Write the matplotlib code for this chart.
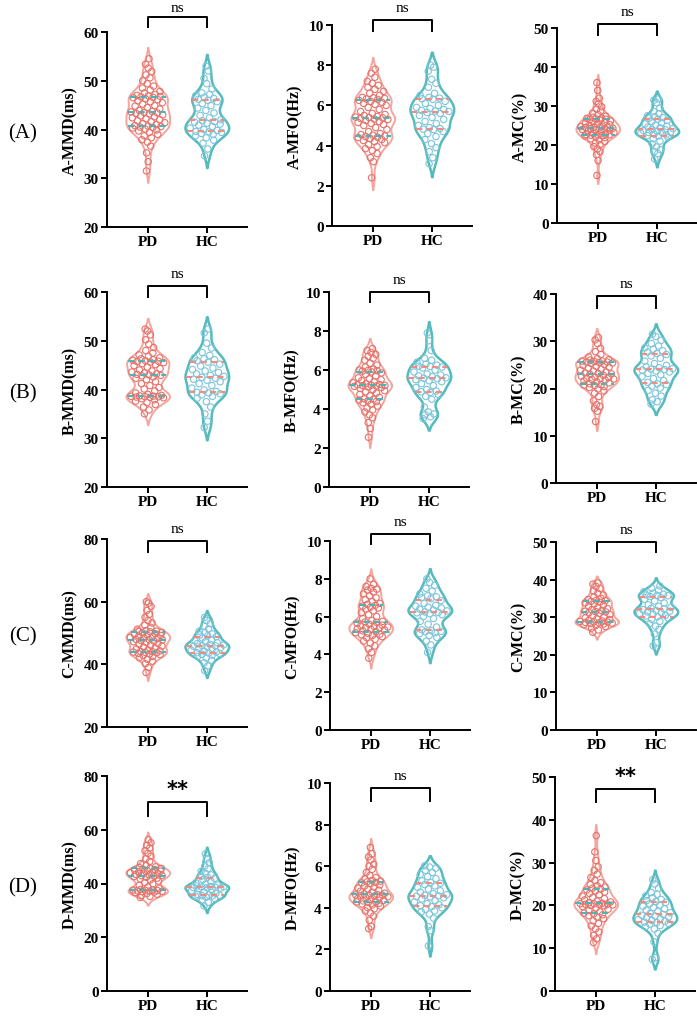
import numpy as np
import matplotlib
matplotlib.use("Agg")
import matplotlib.pyplot as plt

# ---------------- data ----------------
groups = ["PD", "HC"]

A_MMD_PD = [31.5, 33.4, 35.2, 36.6, 37.4, 37.9, 38.3, 38.7, 39.0, 39.4,
            39.7, 39.9, 40.1, 40.3, 40.4, 40.5, 40.6, 40.7, 40.8, 41.0,
            41.2, 41.4, 41.6, 41.8, 42.0, 42.2, 42.4, 42.6, 42.8, 43.0,
            43.2, 43.3, 43.4, 43.5, 43.6, 43.7, 43.9, 44.2, 44.5, 44.8,
            44.9, 45.2, 45.5, 45.7, 45.9, 46.1, 46.3, 46.5, 46.6, 46.7,
            46.8, 46.9, 47.0, 47.2, 47.5, 47.8, 48.1, 48.5, 48.9, 49.4,
            50.0, 50.6, 51.2, 51.9, 52.6, 53.4, 54.5]
A_MMD_HC = [34.6, 36.0, 37.2, 37.8, 38.3, 38.7, 39.0, 39.2, 39.4, 39.5,
            39.6, 39.8, 40.0, 40.3, 40.6, 40.9, 41.1, 41.3, 41.5, 41.6,
            41.8, 42.0, 42.4, 42.9, 43.4, 43.9, 44.4, 44.9, 45.3, 45.7,
            46.0, 46.2, 46.4, 46.6, 46.9, 47.2, 47.5, 48.3, 49.4, 50.5,
            52.0, 53.0]

A_MFO_PD = [2.4, 3.2, 3.4, 3.6, 3.75, 3.85, 3.95, 4.05, 4.15, 4.2,
            4.25, 4.3, 4.35, 4.4, 4.42, 4.45, 4.48, 4.52, 4.55, 4.6,
            4.7, 4.8, 4.9, 5.0, 5.05, 5.1, 5.15, 5.2, 5.25, 5.3,
            5.32, 5.35, 5.38, 5.4, 5.42, 5.45, 5.5, 5.55, 5.6, 5.7,
            5.8, 5.9, 6.0, 6.05, 6.1, 6.15, 6.2, 6.25, 6.3, 6.32,
            6.35, 6.38, 6.4, 6.5, 6.6, 6.7, 6.8, 6.9, 7.0, 7.1,
            7.2, 7.4, 7.6, 7.8]
A_MFO_HC = [3.1, 3.4, 3.7, 3.9, 4.1, 4.3, 4.45, 4.6, 4.7, 4.8,
            4.82, 4.85, 4.9, 5.0, 5.1, 5.2, 5.3, 5.4, 5.5, 5.6,
            5.65, 5.7, 5.72, 5.75, 5.8, 5.85, 5.9, 6.0, 6.1, 6.2,
            6.3, 6.33, 6.36, 6.4, 6.5, 6.6, 6.9, 7.1, 7.3, 7.7,
            7.9, 8.0]

A_MC_PD = [12.2, 16.0, 17.5, 18.3, 19.0, 19.6, 20.1, 20.5, 20.9, 21.3,
           21.6, 21.9, 22.1, 22.3, 22.4, 22.5, 22.6, 22.6, 22.7, 22.8,
           23.0, 23.2, 23.4, 23.6, 23.8, 23.9, 24.0, 24.1, 24.2, 24.3,
           24.4, 24.5, 24.5, 24.6, 24.7, 24.8, 25.0, 25.2, 25.4, 25.6,
           25.8, 26.0, 26.2, 26.4, 26.5, 26.6, 26.7, 26.8, 26.9, 27.1,
           27.4, 27.8, 28.2, 28.7, 29.2, 29.8, 30.5, 31.2, 32.0, 34.0,
           36.0]
A_MC_HC = [16.4, 17.8, 18.3, 18.8, 19.5, 20.3, 21.0, 21.6, 22.0, 22.3,
           22.4, 22.6, 22.8, 23.0, 23.1, 23.2, 23.3, 23.5, 23.7, 23.9,
           24.0, 24.2, 24.4, 24.6, 24.8, 25.1, 25.4, 25.7, 26.0, 26.3,
           26.6, 26.9, 27.0, 27.2, 27.5, 28.0, 28.6, 29.5, 30.8, 31.5,
           31.8]

B_MMD_PD = [35.0, 35.8, 36.4, 36.9, 37.3, 37.6, 37.9, 38.1, 38.3, 38.4,
            38.45, 38.5, 38.55, 38.6, 38.65, 38.7, 38.8, 39.0, 39.3, 39.7,
            40.1, 40.4, 40.8, 41.2, 41.6, 42.0, 42.3, 42.6, 42.8, 42.9,
            43.0, 43.1, 43.2, 43.4, 43.6, 43.8, 44.0, 44.3, 44.6, 44.9,
            45.1, 45.3, 45.5, 45.6, 45.7, 45.8, 45.9, 46.0, 46.1, 46.3,
            46.5, 46.8, 47.1, 47.5, 48.0, 48.6, 49.3, 50.2, 51.2, 52.0,
            52.4]
B_MMD_HC = [32.2, 33.5, 35.0, 36.4, 37.5, 38.2, 38.6, 38.9, 39.1, 39.3,
            39.4, 39.6, 39.9, 40.3, 40.8, 41.2, 41.6, 41.9, 42.1, 42.3,
            42.5, 42.7, 42.9, 43.2, 43.5, 43.8, 44.1, 44.4, 44.8, 45.2,
            45.6, 45.9, 46.1, 46.3, 46.5, 47.0, 47.6, 48.5, 49.5, 51.6,
            52.4]

B_MFO_PD = [2.55, 3.0, 3.3, 3.55, 3.7, 3.85, 3.95, 4.05, 4.15, 4.25,
            4.32, 4.38, 4.42, 4.46, 4.5, 4.52, 4.6, 4.68, 4.75, 4.82,
            4.88, 4.94, 5.0, 5.05, 5.1, 5.13, 5.16, 5.18, 5.2, 5.21,
            5.22, 5.24, 5.26, 5.3, 5.35, 5.4, 5.45, 5.5, 5.55, 5.6,
            5.7, 5.78, 5.85, 5.9, 5.94, 5.96, 5.98, 6.0, 6.05, 6.15,
            6.25, 6.35, 6.5, 6.6, 6.7, 6.8, 6.9, 7.0, 7.1]
B_MFO_HC = [3.5, 3.6, 3.7, 3.75, 3.85, 4.1, 4.5, 4.65, 4.75, 4.85,
            4.88, 4.92, 5.0, 5.1, 5.2, 5.3, 5.4, 5.45, 5.5, 5.55,
            5.58, 5.6, 5.65, 5.7, 5.75, 5.8, 5.9, 6.0, 6.1, 6.15,
            6.18, 6.2, 6.25, 6.3, 6.4, 6.5, 6.6, 7.0, 7.5, 7.9]

B_MC_PD = [13.0, 15.2, 15.8, 16.2, 16.6, 17.4, 18.3, 19.0, 19.5, 19.9,
           20.2, 20.4, 20.6, 20.7, 20.8, 21.0, 21.2, 21.4, 21.6, 21.8,
           21.9, 22.0, 22.1, 22.2, 22.3, 22.4, 22.6, 22.8, 23.0, 23.1,
           23.2, 23.3, 23.5, 23.7, 23.9, 24.1, 24.3, 24.5, 24.7, 24.9,
           25.1, 25.3, 25.4, 25.5, 25.6, 25.6, 25.7, 25.8, 25.8, 26.0,
           26.1, 26.3, 26.7, 27.2, 27.8, 28.5, 29.5, 30.3, 30.8]
B_MC_HC = [16.7, 17.2, 17.6, 18.4, 19.0, 19.6, 20.1, 20.5, 20.8, 21.0,
           21.3, 21.7, 22.1, 22.5, 22.9, 23.2, 23.5, 23.7, 23.9, 24.0,
           24.1, 24.2, 24.4, 24.6, 24.9, 25.3, 25.8, 26.4, 26.9, 27.2,
           27.4, 27.7, 28.0, 28.3, 28.6, 29.0, 29.5, 30.2, 31.0, 31.5]

C_MMD_PD = [37.4, 39.0, 40.2, 41.0, 41.6, 42.1, 42.5, 42.8, 43.1, 43.3,
            43.5, 43.7, 43.8, 43.9, 44.0, 44.1, 44.3, 44.6, 44.9, 45.2,
            45.5, 45.8, 46.1, 46.4, 46.7, 47.0, 47.2, 47.4, 47.6, 47.8,
            47.9, 48.0, 48.2, 48.4, 48.6, 48.8, 49.0, 49.2, 49.4, 49.6,
            49.8, 50.0, 50.2, 50.4, 50.5, 50.6, 50.8, 51.2, 51.8, 52.5,
            53.2, 54.0, 55.0, 56.0, 57.2, 58.5, 59.5, 60.0]
C_MMD_HC = [38.0, 39.5, 40.5, 41.3, 42.0, 42.5, 42.9, 43.2, 43.4, 43.6,
            43.7, 43.9, 44.2, 44.5, 44.8, 45.1, 45.4, 45.6, 45.8, 45.9,
            46.0, 46.2, 46.4, 46.6, 46.9, 47.2, 47.5, 47.8, 48.4, 48.8,
            49.1, 49.4, 49.7, 50.1, 50.6, 51.3, 52.2, 53.0, 54.0, 55.0]

C_MFO_PD = [3.8, 4.1, 4.3, 4.45, 4.6, 4.7, 4.8, 4.88, 4.94, 5.0,
            5.04, 5.07, 5.1, 5.15, 5.2, 5.25, 5.3, 5.33, 5.36, 5.4,
            5.42, 5.45, 5.48, 5.5, 5.55, 5.6, 5.65, 5.7, 5.72, 5.75,
            5.8, 5.9, 6.0, 6.1, 6.2, 6.3, 6.4, 6.45, 6.5, 6.55,
            6.6, 6.65, 6.7, 6.8, 6.9, 7.0, 7.1, 7.2, 7.3, 7.4,
            7.45, 7.5, 7.6, 7.7, 8.0]
C_MFO_HC = [4.1, 4.5, 4.7, 4.9, 5.0, 5.1, 5.15, 5.2, 5.22, 5.25,
            5.3, 5.45, 5.6, 5.75, 5.9, 6.0, 6.1, 6.15, 6.2, 6.22,
            6.25, 6.3, 6.35, 6.4, 6.45, 6.5, 6.55, 6.6, 6.7, 6.85,
            6.95, 7.0, 7.05, 7.1, 7.2, 7.35, 7.5, 7.65, 7.8, 8.0]

C_MC_PD = [26.0, 26.6, 27.1, 27.5, 27.8, 28.0, 28.2, 28.3, 28.4, 28.5,
           28.6, 28.7, 28.8, 28.9, 29.0, 29.2, 29.4, 29.6, 29.8, 30.1,
           30.4, 30.7, 31.0, 31.2, 31.4, 31.5, 31.6, 31.8, 32.0, 32.3,
           32.6, 32.9, 33.2, 33.5, 33.8, 34.0, 34.2, 34.4, 34.5, 34.7,
           35.0, 35.4, 35.9, 36.4, 37.0, 37.6, 38.2, 38.8, 39.1]
C_MC_HC = [22.4, 23.2, 25.5, 26.8, 27.6, 28.3, 28.9, 29.4, 29.8, 30.1,
           30.3, 30.5, 30.8, 31.0, 31.2, 31.4, 31.6, 31.8, 32.0, 32.2,
           32.4, 32.6, 32.9, 33.3, 33.8, 34.3, 34.8, 35.2, 35.5, 35.7,
           35.8, 35.9, 36.1, 36.4, 36.8, 37.2, 37.7, 38.3]

D_MMD_PD = [34.8, 35.2, 35.6, 36.0, 36.3, 36.6, 36.8, 37.0, 37.1, 37.2,
            37.3, 37.4, 37.5, 37.55, 37.6, 37.8, 38.2, 38.7, 39.3, 39.9,
            40.4, 40.9, 41.3, 41.7, 42.0, 42.3, 42.6, 42.8, 42.9, 43.0,
            43.2, 43.4, 43.6, 43.8, 44.0, 44.2, 44.4, 44.6, 44.8, 45.0,
            45.2, 45.4, 45.6, 45.7, 45.9, 46.2, 46.7, 47.4, 48.2, 49.2,
            50.2, 51.2, 52.2, 53.2, 54.2, 55.2, 56.3]
D_MMD_HC = [31.7, 33.0, 33.8, 34.4, 34.9, 35.2, 35.4, 35.5, 35.6, 35.7,
            35.9, 36.3, 36.8, 37.3, 37.8, 38.1, 38.3, 38.4, 38.5, 38.6,
            38.7, 38.8, 38.9, 39.1, 39.4, 39.8, 40.3, 40.8, 41.4, 41.9,
            42.3, 42.7, 43.2, 43.8, 44.5, 45.5, 46.5, 47.8, 49.2, 51.0]

D_MFO_PD = [3.0, 3.1, 3.4, 3.6, 3.75, 3.85, 3.95, 4.02, 4.08, 4.14,
            4.18, 4.22, 4.25, 4.28, 4.3, 4.33, 4.36, 4.4, 4.44, 4.48,
            4.5, 4.53, 4.56, 4.58, 4.6, 4.6, 4.62, 4.64, 4.66, 4.7,
            4.75, 4.8, 4.85, 4.9, 4.95, 5.0, 5.05, 5.1, 5.15, 5.2,
            5.22, 5.25, 5.28, 5.32, 5.38, 5.45, 5.55, 5.7, 5.85, 6.0,
            6.1, 6.3, 6.45, 6.6, 6.9]
D_MFO_HC = [2.17, 2.9, 3.1, 3.5, 3.7, 3.8, 3.85, 3.92, 4.0, 4.06,
            4.1, 4.15, 4.2, 4.28, 4.35, 4.42, 4.48, 4.52, 4.55, 4.57,
            4.6, 4.63, 4.68, 4.75, 4.82, 4.9, 4.98, 5.05, 5.12, 5.18,
            5.22, 5.3, 5.4, 5.5, 5.6, 5.7, 5.8, 5.9, 5.96, 6.02]

D_MC_PD = [11.3, 12.2, 13.0, 13.8, 14.5, 15.2, 15.8, 16.4, 16.9, 17.3,
           17.6, 17.8, 18.0, 18.2, 18.5, 18.8, 19.1, 19.4, 19.7, 19.9,
           20.0, 20.1, 20.2, 20.25, 20.3, 20.35, 20.4, 20.5, 20.6, 20.8,
           21.0, 21.3, 21.6, 21.9, 22.2, 22.5, 22.8, 23.1, 23.4, 23.6,
           23.8, 24.0, 24.3, 24.6, 24.9, 25.3, 25.8, 26.5, 27.3, 28.2,
           29.0, 30.5, 32.5, 36.3]
D_MC_HC = [7.4, 7.8, 11.5, 13.5, 14.5, 15.0, 15.3, 15.6, 15.8, 16.0,
           16.1, 16.3, 16.5, 16.7, 16.9, 17.1, 17.3, 17.5, 17.7, 17.9,
           18.1, 18.3, 18.6, 18.9, 19.2, 19.5, 19.8, 20.1, 20.4, 20.7,
           20.9, 21.1, 21.4, 21.8, 22.2, 22.6, 23.0, 24.0, 25.0, 26.0]

row_labels = ["(A)", "(B)", "(C)", "(D)"]
y_labels = ["A-MMD(ms)", "A-MFO(Hz)", "A-MC(%)",
            "B-MMD(ms)", "B-MFO(Hz)", "B-MC(%)",
            "C-MMD(ms)", "C-MFO(Hz)", "C-MC(%)",
            "D-MMD(ms)", "D-MFO(Hz)", "D-MC(%)"]
pd_data = [A_MMD_PD, A_MFO_PD, A_MC_PD, B_MMD_PD, B_MFO_PD, B_MC_PD,
           C_MMD_PD, C_MFO_PD, C_MC_PD, D_MMD_PD, D_MFO_PD, D_MC_PD]
hc_data = [A_MMD_HC, A_MFO_HC, A_MC_HC, B_MMD_HC, B_MFO_HC, B_MC_HC,
           C_MMD_HC, C_MFO_HC, C_MC_HC, D_MMD_HC, D_MFO_HC, D_MC_HC]
y_ranges = [(20, 60, 10), (0, 10, 2), (0, 50, 10),
            (20, 60, 10), (0, 10, 2), (0, 40, 10),
            (20, 80, 20), (0, 10, 2), (0, 50, 10),
            (0, 80, 20), (0, 10, 2), (0, 50, 10)]
significance = ["ns", "ns", "ns", "ns", "ns", "ns",
                "ns", "ns", "ns", "**", "ns", "**"]

# ---------------- layout / style ----------------
W, H = 697, 1020
# (left px, top px, bottom px) of each axes
boxes = [(107, 33, 228), (332, 26, 227), (557, 29, 224),
         (107, 293, 488), (329, 293, 488), (556, 295, 484),
         (107, 540, 728), (330, 542, 731), (556, 543, 731),
         (107, 777, 992), (330, 784, 992), (555, 778, 992)]
AX_W = 140
# bracket (bar y, leg-end y) in data units
brackets = [(63.1, 61.0), (10.25, 9.7), (51.0, 48.2),
            (61.2, 59.0), (10.0, 9.5), (39.6, 37.0),
            (79.5, 75.7), (10.37, 9.84), (50.0, 47.3),
            (70.3, 65.1), (9.76, 9.13), (47.2, 44.2)]

PD_LINE = "#F4A59E"
PD_PT = "#E8716A"
HC_LINE = "#55BBBD"
HC_PT = "#7CC5DA"
PD_DASH = "#4DB3B5"
HC_DASH = "#EF8C84"

SERIF = "Liberation Serif"


def kde(vals, grid, bw):
    v = np.asarray(vals)[:, None]
    z = (grid[None, :] - v) / bw
    return np.exp(-0.5 * z ** 2).sum(axis=0) / (len(vals) * bw * np.sqrt(2 * np.pi))


def draw_violin(ax, vals, pos, line_c, pt_c, dash_c, lw):
    vals = np.sort(np.asarray(vals, dtype=float))
    n = len(vals)
    bw = 0.62 * vals.std(ddof=1) * n ** (-0.2)
    grid = np.linspace(vals.min() - 1.9 * bw, vals.max() + 1.9 * bw, 400)
    dens = kde(vals, grid, bw)
    hw = dens / dens.max() * 0.37
    ax.fill_betweenx(grid, pos - hw, pos + hw, facecolor="white",
                     edgecolor=line_c, linewidth=lw, zorder=2)
    # points spread inside the violin (golden-ratio sequence)
    phi = 0.6180339887
    u = np.array([((i * phi) % 1.0) * 2 - 1 for i in range(n)])
    w = np.interp(vals, grid, hw)
    xs = pos + u * w * 0.82
    ax.scatter(xs, vals, s=21, facecolors="none", edgecolors=pt_c,
               linewidths=0.8, zorder=3)
    for q in np.percentile(vals, [25, 50, 75]):
        wq = np.interp(q, grid, hw) * 0.95
        ax.plot([pos - wq, pos + wq], [q, q], color=dash_c, lw=1.5,
                ls=(0, (3, 2)), zorder=4, solid_capstyle="butt")


fig = plt.figure(figsize=(W / 100, H / 100), dpi=100)

for k in range(12):
    L, T, B = boxes[k]
    ax = fig.add_axes([L / W, 1 - B / H, AX_W / W, (B - T) / H])
    y0, y1, st = y_ranges[k]
    ax.set_ylim(y0, y1)
    ax.set_xlim(-0.69, 1.68)
    draw_violin(ax, pd_data[k], 0, PD_LINE, PD_PT, PD_DASH, 1.4)
    draw_violin(ax, hc_data[k], 1, HC_LINE, HC_PT, HC_DASH, 1.8)

    for s in ["top", "right"]:
        ax.spines[s].set_visible(False)
    for s in ["left", "bottom"]:
        ax.spines[s].set_linewidth(1.4)
    ax.set_yticks(np.arange(y0, y1 + st / 2, st))
    ax.set_xticks([0, 1])
    ax.set_xticklabels(groups)
    ax.tick_params(direction="out", length=4, width=1.4, pad=2)
    for lab in ax.get_yticklabels():
        lab.set_fontfamily(SERIF)
        lab.set_fontweight("bold")
        lab.set_fontsize(11)
    for lab in ax.get_xticklabels():
        lab.set_fontfamily(SERIF)
        lab.set_fontweight("bold")
        lab.set_fontsize(11)
    ax.set_ylabel(y_labels[k], fontfamily=SERIF, fontweight="bold",
                  fontsize=11.5, labelpad=4)

    bar, leg = brackets[k]
    ax.plot([0, 0, 1, 1], [leg, bar, bar, leg], color="black", lw=1.4,
            clip_on=False, zorder=5)
    bx, by = ax.transData.transform((0.5, bar))
    bar_from_top = H - by
    if significance[k] == "ns":
        base_from_top = max(bar_from_top - 9.0, 11.5)
        fig.text(bx / W, 1 - base_from_top / H, "ns", ha="center",
                 va="baseline", fontfamily=SERIF, fontsize=11)
    else:
        ax.annotate(significance[k], xy=(0.5, bar), xytext=(0, 2),
                    textcoords="offset points", ha="center", va="bottom",
                    fontfamily="DejaVu Sans", fontweight="bold",
                    fontsize=15, annotation_clip=False)

    if k % 3 == 0:
        yc = (T + B) / 2 + 3
        fig.text(23 / W, 1 - yc / H, row_labels[k // 3], fontfamily=SERIF,
                 fontsize=15, ha="center", va="center")

fig.savefig("out.png", dpi=100, facecolor="white")
